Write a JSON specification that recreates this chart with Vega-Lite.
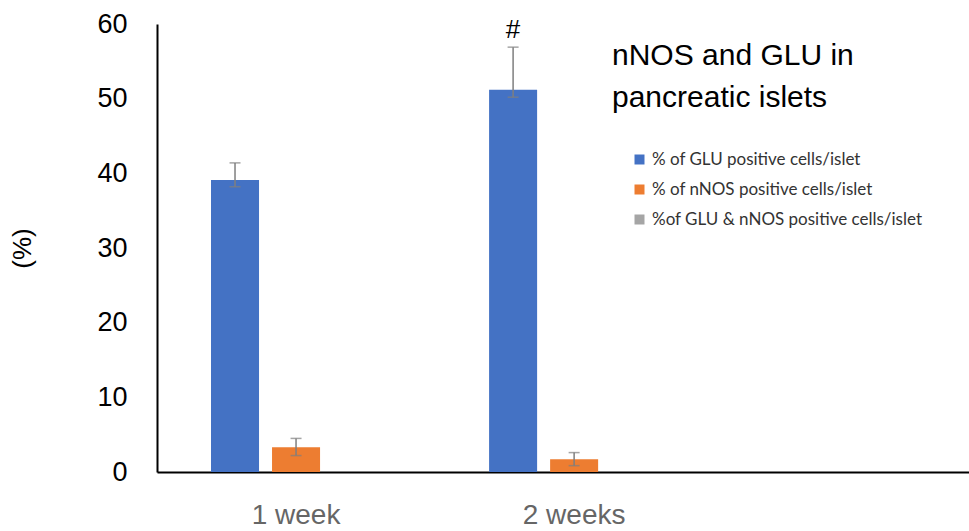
{
  "$schema": "https://vega.github.io/schema/vega-lite/v6.json",
  "width": 812,
  "height": 448,
  "autosize": "none",
  "padding": {"left": 157, "top": 24, "right": 0, "bottom": 59},
  "background": "white",
  "config": {"view": {"stroke": null}, "font": "Liberation Sans"},
  "data": {
    "values": [
      {"week": "1 week", "series": "% of GLU positive cells/islet", "value": 39.1, "lo": 38.2, "hi": 41.4},
      {"week": "1 week", "series": "% of nNOS positive cells/islet", "value": 3.3, "lo": 2.2, "hi": 4.5},
      {"week": "1 week", "series": "%of GLU & nNOS positive cells/islet", "value": 0},
      {"week": "2 weeks", "series": "% of GLU positive cells/islet", "value": 51.2, "lo": 50.2, "hi": 56.9, "sig": "#"},
      {"week": "2 weeks", "series": "% of nNOS positive cells/islet", "value": 1.7, "lo": 0.85, "hi": 2.6},
      {"week": "2 weeks", "series": "%of GLU & nNOS positive cells/islet", "value": 0}
    ]
  },
  "encoding": {
    "x": {
      "field": "week", "type": "nominal",
      "scale": {"type": "band", "paddingInner": 0, "paddingOuter": 0.46, "align": 0},
      "axis": {"title": null, "labelAngle": 0, "ticks": false, "labelFontSize": 28, "labelColor": "#666666", "labelPadding": 29, "domainColor": "black", "domainWidth": 2}
    },
    "xOffset": {
      "field": "series", "type": "nominal",
      "scale": {"domain": ["% of GLU positive cells/islet", "% of nNOS positive cells/islet", "%of GLU & nNOS positive cells/islet"], "paddingInner": 0.213, "paddingOuter": 0.885}
    }
  },
  "layer": [
    {
      "mark": {"type": "bar"},
      "encoding": {
        "y": {
          "field": "value", "type": "quantitative",
          "scale": {"domain": [0, 60], "nice": false},
          "axis": {"values": [0, 10, 20, 30, 40, 50, 60], "grid": false, "ticks": false, "labelPadding": 30, "labelFontSize": 27, "labelColor": "black", "domainColor": "black", "domainWidth": 2, "title": "(%)", "titleFontSize": 26, "titleFontWeight": "normal", "titleColor": "black", "titlePadding": 61}
        },
        "color": {
          "field": "series", "type": "nominal",
          "scale": {"domain": ["% of GLU positive cells/islet", "% of nNOS positive cells/islet", "%of GLU & nNOS positive cells/islet"], "range": ["#4472C4", "#ED7D31", "#A5A5A5"]},
          "legend": {
            "orient": "none", "legendX": 455, "legendY": 17,
            "title": ["nNOS and GLU in", "pancreatic islets"],
            "titleFontSize": 30, "titleFontWeight": "normal", "titleLineHeight": 42, "titleColor": "black", "titlePadding": 38, "titleLimit": 400,
            "symbolType": "square", "symbolSize": 100, "symbolStrokeWidth": 0, "symbolOffset": 19,
            "labelFontSize": 17, "labelFont": "Lato", "labelColor": "#333333", "rowPadding": 12, "labelOffset": 4, "labelLimit": 400
          }
        }
      }
    },
    {
      "transform": [{"filter": "isValid(datum.hi)"}],
      "mark": {"type": "rule", "color": "#7f7f7f", "strokeWidth": 1.5},
      "encoding": {
        "y": {"field": "lo", "type": "quantitative"},
        "y2": {"field": "hi"}
      }
    },
    {
      "transform": [{"filter": "isValid(datum.hi)"}],
      "mark": {"type": "tick", "color": "#7f7f7f", "thickness": 1.5, "size": 11},
      "encoding": {"y": {"field": "hi", "type": "quantitative"}}
    },
    {
      "transform": [{"filter": "isValid(datum.hi)"}],
      "mark": {"type": "tick", "color": "#7f7f7f", "thickness": 1.5, "size": 11},
      "encoding": {"y": {"field": "lo", "type": "quantitative"}}
    },
    {
      "transform": [{"filter": "isValid(datum.sig)"}],
      "mark": {"type": "text", "fontSize": 26, "color": "black", "dy": -17},
      "encoding": {
        "y": {"field": "hi", "type": "quantitative"},
        "text": {"field": "sig"}
      }
    }
  ]
}
